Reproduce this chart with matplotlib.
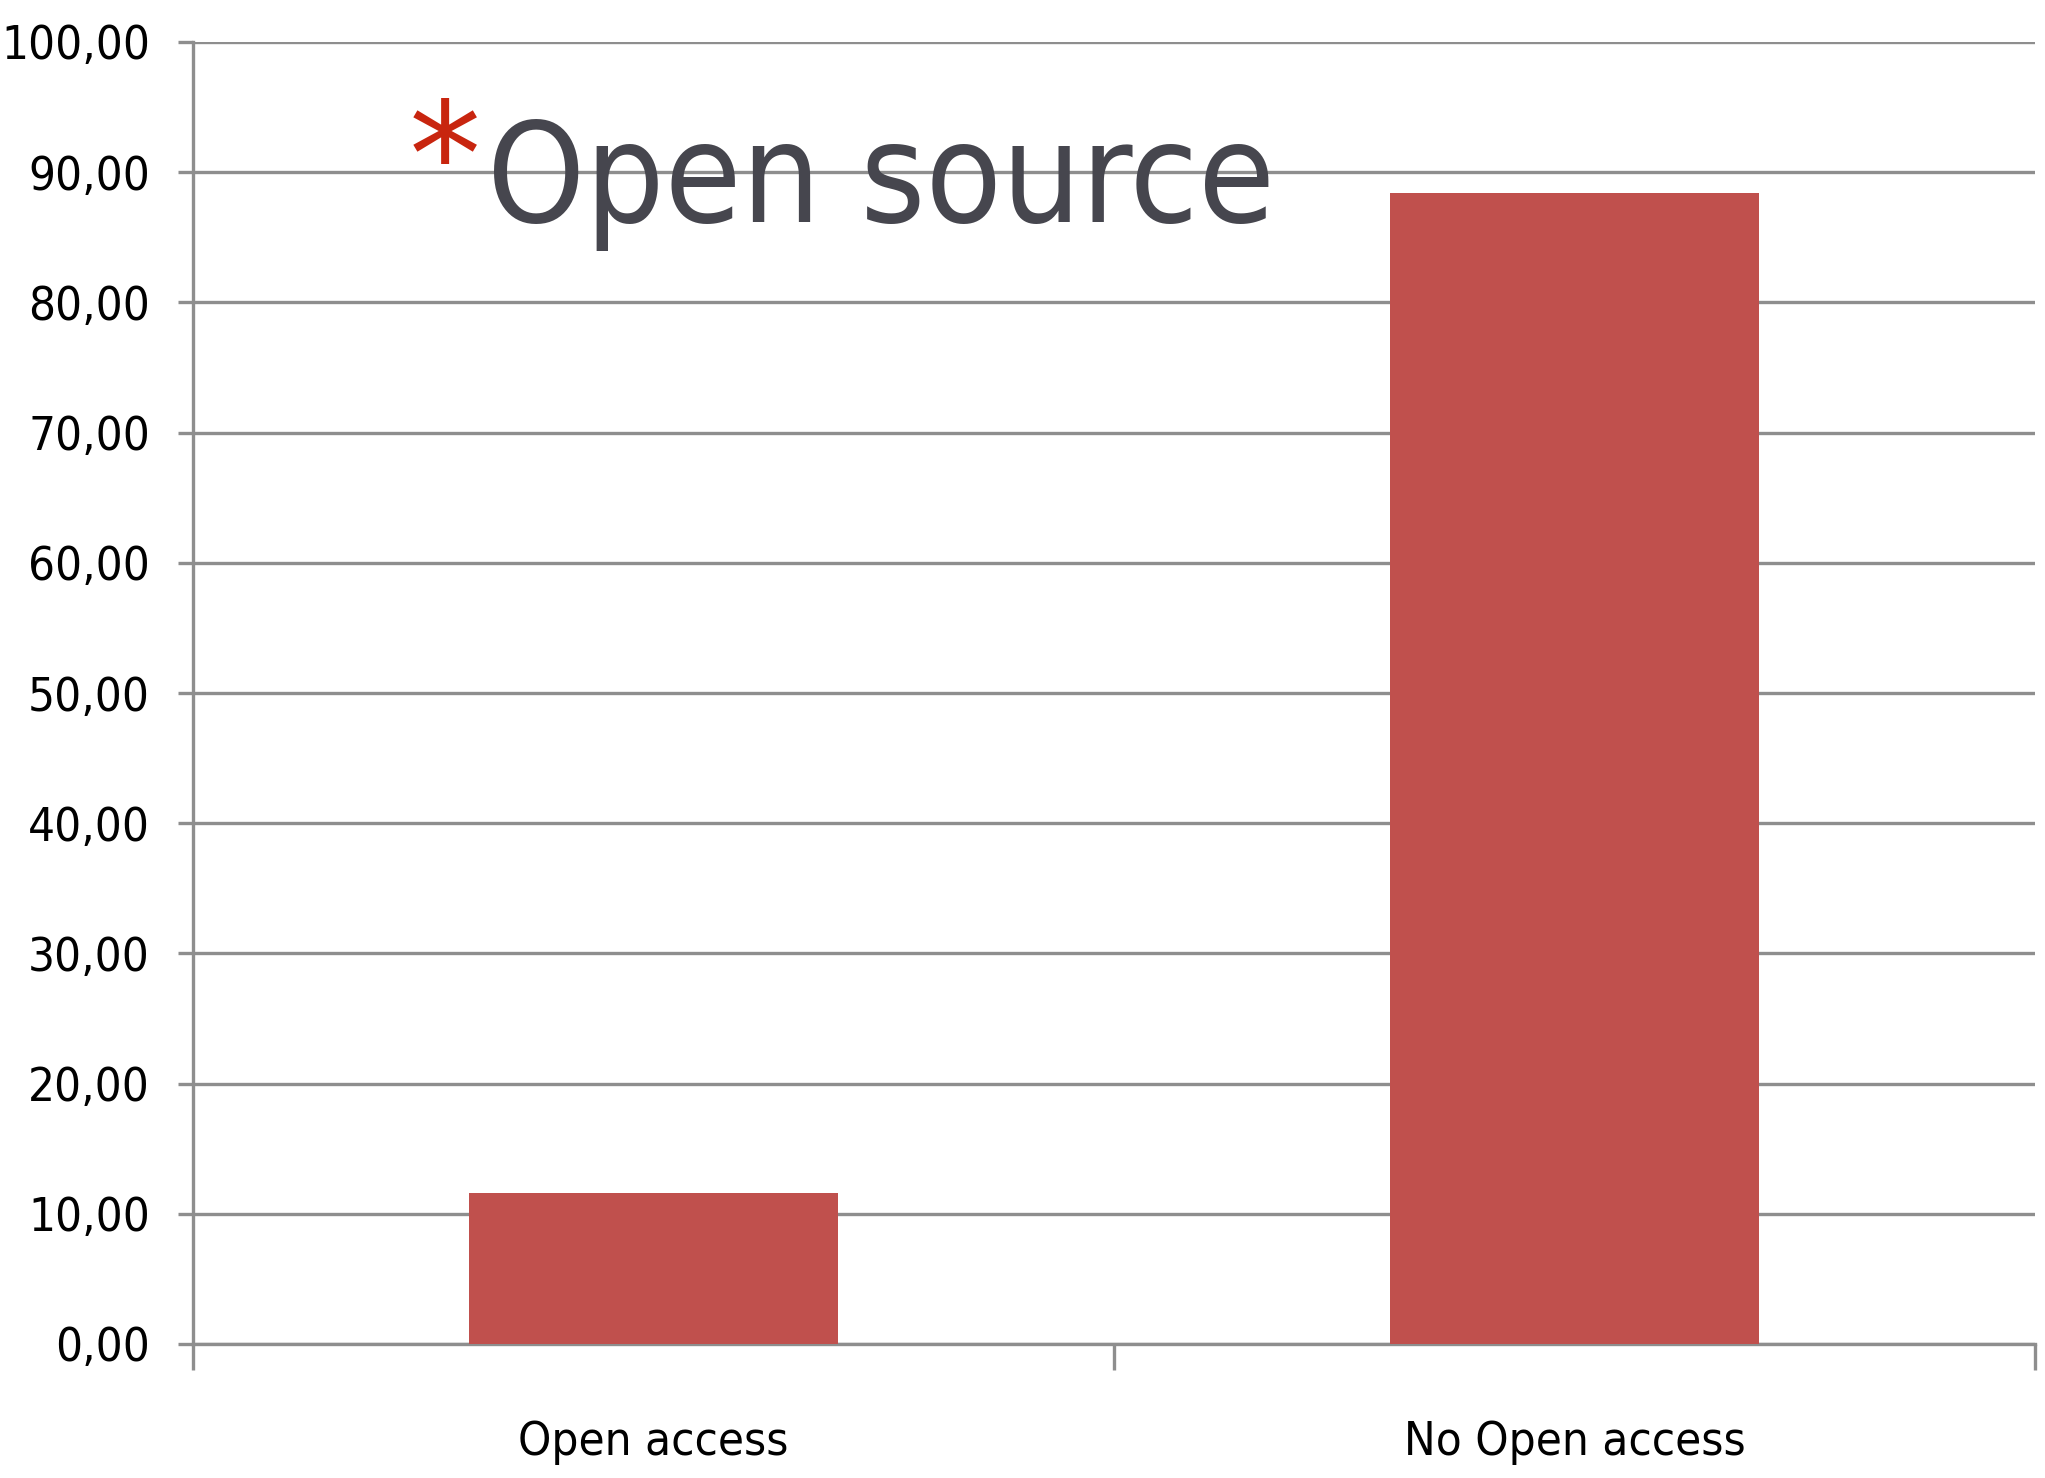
import matplotlib
matplotlib.use("Agg")
import matplotlib.pyplot as plt
from matplotlib import font_manager as fm

categories = ["Open access", "No Open access"]
values = [11.6, 88.4]
yticks = [0, 10, 20, 30, 40, 50, 60, 70, 80, 90, 100]
ytick_labels = [f"{v:.2f}".replace(".", ",") for v in yticks]
title_text = "Open source"
bar_color = "#c0504d"
grid_color = "#8e8e8e"

def has_font(name):
    try:
        fm.findfont(fm.FontProperties(family=name), fallback_to_default=False)
        return True
    except Exception:
        return False

if has_font("Liberation Sans Narrow"):
    tick_family, tick_stretch, tick_size = "Liberation Sans Narrow", "normal", 38
else:
    tick_family, tick_stretch, tick_size = "DejaVu Sans", "condensed", 34

W, H = 2045, 1478
fig = plt.figure(figsize=(W / 100, H / 100), dpi=100)
ax = fig.add_axes([193 / W, (H - 1344) / H, (2035 - 193) / W, (1344 - 42) / H])

x = list(range(len(categories)))
ax.bar(x, values, width=0.4, color=bar_color, zorder=3)

ax.set_xlim(-0.5, len(categories) - 0.5)
ax.set_ylim(0, 100)

ax.set_yticks(yticks)
ax.set_yticklabels(ytick_labels, family=tick_family, stretch=tick_stretch, fontsize=tick_size)
ax.yaxis.grid(True, color=grid_color, linewidth=2.4, zorder=1)
ax.tick_params(axis="y", direction="out", length=11, width=2.4, color=grid_color, pad=20)

# category separators as major ticks, labels as minor ticks
ax.set_xticks([i - 0.5 for i in range(len(categories) + 1)])
ax.set_xticklabels([])
ax.tick_params(axis="x", which="major", direction="out", length=19, width=2.4, color=grid_color)
ax.set_xticks(x, minor=True)
ax.set_xticklabels(categories, minor=True, family=tick_family, stretch=tick_stretch, fontsize=tick_size)
ax.tick_params(axis="x", which="minor", length=0, pad=55)

for s in ["top", "right"]:
    ax.spines[s].set_visible(False)
ax.spines["left"].set_color(grid_color)
ax.spines["left"].set_linewidth(2.4)
ax.spines["bottom"].set_color(grid_color)
ax.spines["bottom"].set_linewidth(2.4)

# decorative title overlay
fig.text(409 / W, 1 - 205 / H, "*", color="#c8250f", fontsize=104,
         family="DejaVu Sans", ha="left", va="baseline", zorder=5)
fig.text(487 / W, 1 - 222 / H, title_text, color="#46464e", fontsize=100,
         family="DejaVu Sans", stretch="condensed", weight="normal",
         ha="left", va="baseline", zorder=5)

fig.savefig("out.png", dpi=100, facecolor="white")
